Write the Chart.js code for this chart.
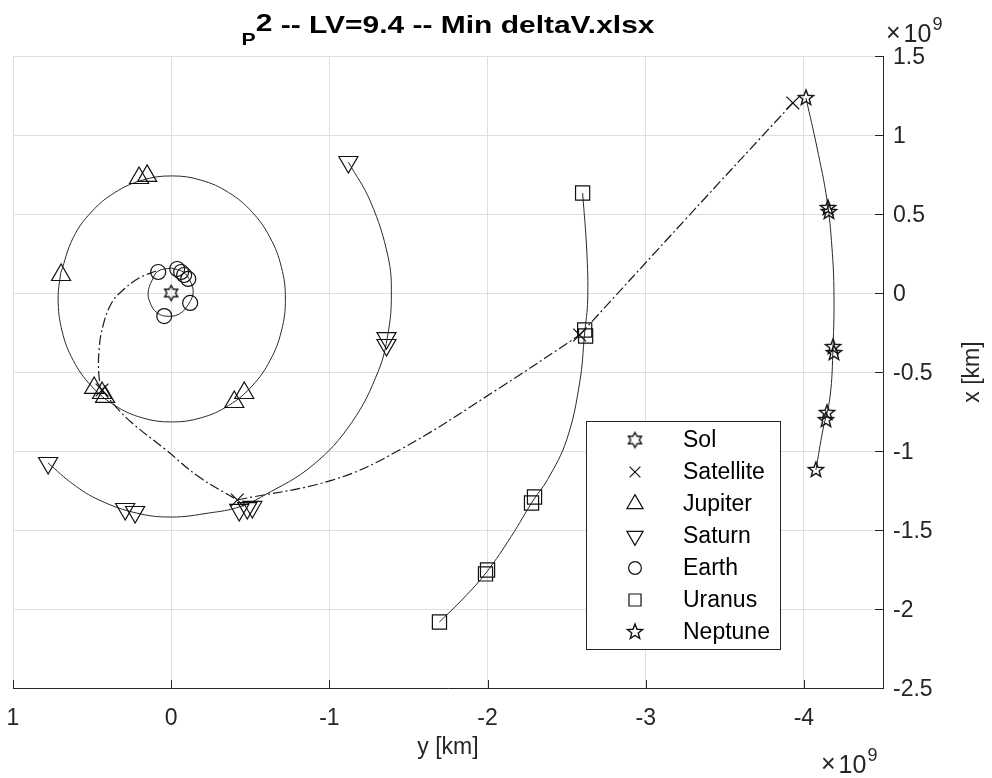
<!DOCTYPE html>
<html>
<head>
<title>Min deltaV trajectory</title>
<script src="https://cdn.jsdelivr.net/npm/chart.js@4"></script>
<style>
  html, body { margin:0; padding:0; background:#fff; }
  #orbitChart { display:block; }
</style>
</head>
<body>
<canvas id="orbitChart" width="992" height="778"></canvas>
<script>
// all positions in units of 1e9 km, pairs are [y km (horizontal), x km (vertical)]
const xTicks = [1, 0, -1, -2, -3, -4];
const xTickLabels = ['1', '0', '-1', '-2', '-3', '-4'];
const yTicks = [1.5, 1, 0.5, 0, -0.5, -1, -1.5, -2, -2.5];
const yTickLabels = ['1.5', '1', '0.5', '0', '-0.5', '-1', '-1.5', '-2', '-2.5'];

const solMarks = [[0, 0]];

const earthOrbit = [[0,0.158],[0.082,0.139],[0.120,0.082],[0.146,0],[0.127,-0.076],[0.095,-0.120],
  [0.038,-0.146],[-0.051,-0.133],[-0.114,-0.063],[-0.139,0.006],[-0.120,0.076],[-0.076,0.133],[0,0.158]];
const earthMarks = [[0.082,0.133],[-0.038,0.152],[-0.063,0.133],[-0.082,0.114],[-0.108,0.089],[-0.120,-0.063],[0.044,-0.146]];

const jupiterOrbit = [[0.699,0.124],[0.619,0.351],[0.504,0.513],[0.356,0.636],[0.183,0.714],[-0.003,0.741],
  [-0.189,0.714],[-0.363,0.636],[-0.511,0.513],[-0.625,0.351],[-0.697,0.163],[-0.722,-0.038],[-0.697,-0.240],
  [-0.625,-0.427],[-0.511,-0.589],[-0.363,-0.712],[-0.189,-0.790],[-0.003,-0.816],[0.183,-0.790],[0.356,-0.712],
  [0.504,-0.589],[0.619,-0.427],[0.690,-0.240],[0.715,-0.038],[0.699,0.124]];
const jupiterMarks = [[0.696,0.114],[0.203,0.728],[0.152,0.741],[0.487,-0.601],[0.437,-0.633],[0.418,-0.658],[-0.399,-0.690],[-0.462,-0.633]];

const saturnOrbit = [[0.778,-1.076],[0.620,-1.210],[0.456,-1.310],[0.222,-1.392],[0,-1.418],[-0.242,-1.392],
  [-0.430,-1.354],[-0.589,-1.280],[-0.895,-1.090],[-1.141,-0.820],[-1.309,-0.495],[-1.371,-0.255],[-1.392,-0.013],
  [-1.371,0.230],[-1.261,0.576],[-1.120,0.829]];
const saturnMarks = [[0.778,-1.076],[0.291,-1.367],[0.228,-1.386],[-0.430,-1.373],[-0.481,-1.361],[-0.513,-1.354],[-1.361,-0.285],[-1.361,-0.329],[-1.120,0.829]];

const uranusOrbit = [[-2.601,0.633],[-2.627,0.272],[-2.633,-0.044],[-2.614,-0.253],[-2.582,-0.570],[-2.500,-0.930],
  [-2.380,-1.180],[-2.290,-1.310],[-2.150,-1.540],[-1.995,-1.765],[-1.850,-1.930],[-1.696,-2.082]];
const uranusMarks = [[-2.601,0.633],[-2.614,-0.234],[-2.620,-0.272],[-2.297,-1.291],[-2.278,-1.329],[-2.000,-1.753],[-1.987,-1.778],[-1.696,-2.082]];

const neptuneOrbit = [[-4.013,1.234],[-4.082,0.924],[-4.146,0.589],[-4.177,0.291],[-4.190,0],[-4.184,-0.342],
  [-4.165,-0.658],[-4.120,-0.867],[-4.076,-1.120]];
const neptuneMarks = [[-4.013,1.234],[-4.152,0.538],[-4.158,0.513],[-4.184,-0.342],[-4.190,-0.380],[-4.146,-0.759],[-4.139,-0.804],[-4.076,-1.120]];

// satellite legs between flybys
const legEarthJupiter = [[0.095,0.139],[0.203,0.095],[0.297,0.025],[0.373,-0.057],[0.430,-0.203],[0.456,-0.361],[0.456,-0.532],[0.437,-0.614]];
const legJupiterSaturn = [[0.437,-0.614],[0.348,-0.722],[0.247,-0.823],[0.032,-0.994],[-0.177,-1.165],[-0.418,-1.310]];
const legSaturnUranus = [[-0.418,-1.310],[-1.019,-1.184],[-1.443,-0.994],[-2.076,-0.601],[-2.582,-0.266]];
const legUranusNeptune = [[-2.582,-0.266],[-3.253,0.468],[-3.930,1.203]];
const satelliteMarks = [[0.437,-0.614],[-0.418,-1.310],[-2.582,-0.266],[-3.930,1.203]];

const legendNames = ['Sol', 'Satellite', 'Jupiter', 'Saturn', 'Earth', 'Uranus', 'Neptune'];
const titleSub = 'P', titleSup = '2', titleRest = ' -- LV=9.4 -- Min deltaV.xlsx';

const fontFam = "'Liberation Sans', Arial, Helvetica, sans-serif";
const textColor = '#262626';
const gridColor = '#dfdfdf';
const lineColor = '#2a2a2a';
const markColor = '#111';

function starCanvas(n, outer, inner) {
  const size = Math.ceil(outer * 2 + 4);
  const c = document.createElement('canvas');
  c.width = size; c.height = size;
  const g = c.getContext('2d');
  g.strokeStyle = markColor; g.lineWidth = 1.4;
  g.beginPath();
  for (let i = 0; i < n * 2; i++) {
    const r = i % 2 ? inner : outer;
    const a = -Math.PI / 2 + i * Math.PI / n;
    const px = size / 2 + r * Math.cos(a), py = size / 2 + r * Math.sin(a);
    i ? g.lineTo(px, py) : g.moveTo(px, py);
  }
  g.closePath(); g.stroke();
  return c;
}
const hexagram = starCanvas(6, 7.5, 4.3);
const pentagram = starCanvas(5, 8, 3.4);

const pts = arr => arr.map(([h, v]) => ({ x: h, y: v }));

const markerStyles = [
  { data: solMarks, pointStyle: hexagram, radius: 8, rotation: 0 },
  { data: satelliteMarks, pointStyle: 'crossRot', radius: 9, rotation: 0 },
  { data: jupiterMarks, pointStyle: 'triangle', radius: 11, rotation: 0 },
  { data: saturnMarks, pointStyle: 'triangle', radius: 11, rotation: 180 },
  { data: earthMarks, pointStyle: 'circle', radius: 7.5, rotation: 0 },
  { data: uranusMarks, pointStyle: 'rect', radius: 10, rotation: 0 },
  { data: neptuneMarks, pointStyle: pentagram, radius: 9, rotation: 0 }
];

const datasets = markerStyles.map((m, i) => ({
  label: legendNames[i],
  data: pts(m.data),
  showLine: false,
  pointStyle: m.pointStyle,
  pointRadius: m.radius,
  pointRotation: m.rotation,
  pointBorderColor: markColor,
  pointBackgroundColor: 'rgba(0,0,0,0)',
  pointBorderWidth: 1.2
}));

[earthOrbit, jupiterOrbit, saturnOrbit, uranusOrbit, neptuneOrbit].forEach(o => {
  datasets.push({ data: pts(o), showLine: true, tension: 0.4, pointRadius: 0,
    borderColor: lineColor, borderWidth: 1, fill: false });
});
[legEarthJupiter, legJupiterSaturn, legSaturnUranus, legUranusNeptune].forEach(o => {
  datasets.push({ data: pts(o), showLine: true, tension: 0.4, pointRadius: 0,
    borderColor: '#1a1a1a', borderWidth: 1.2, borderDash: [10, 3, 2, 3], fill: false });
});

function drawPower(ctx, x, y, size, exp) {
  ctx.font = size + 'px ' + fontFam;
  ctx.textAlign = 'left'; ctx.textBaseline = 'alphabetic';
  ctx.fillText('\u00d7', x, y - 1);
  let cx = x + ctx.measureText('\u00d7').width + 3;
  ctx.fillText('10', cx, y);
  cx += ctx.measureText('10').width + 1;
  ctx.font = Math.round(size * 0.72) + 'px ' + fontFam;
  ctx.fillText(exp, cx, y - 12);
}

const overlay = {
  id: 'overlay',
  afterDraw(chart) {
    const { ctx, chartArea: a, scales: { x, y } } = chart;
    ctx.save();
    // tick marks point inward, as in the source figure
    ctx.strokeStyle = textColor; ctx.lineWidth = 1;
    ctx.beginPath();
    xTicks.forEach(v => {
      const px = Math.round(x.getPixelForValue(v)) + 0.5;
      ctx.moveTo(px, a.bottom); ctx.lineTo(px, a.bottom - 8);
    });
    yTicks.forEach(v => {
      const py = Math.round(y.getPixelForValue(v)) + 0.5;
      ctx.moveTo(a.right, py); ctx.lineTo(a.right - 8, py);
    });
    ctx.stroke();

    ctx.fillStyle = textColor;
    // exponent labels
    drawPower(ctx, 886, 42, 25, '9');
    drawPower(ctx, 821, 773, 25, '9');

    // axis titles
    ctx.font = '23px ' + fontFam;
    ctx.textAlign = 'center'; ctx.textBaseline = 'alphabetic';
    ctx.fillText('y [km]', (a.left + a.right) / 2, 754);
    ctx.save();
    ctx.translate(973, (a.top + a.bottom) / 2);
    ctx.rotate(-Math.PI / 2);
    ctx.textBaseline = 'middle';
    ctx.fillText('x [km]', 0, 0);
    ctx.restore();

    // title with sub/superscript
    ctx.fillStyle = '#000';
    ctx.textAlign = 'left';
    const big = 'bold 24px ' + fontFam, small = 'bold 17px ' + fontFam;
    ctx.font = small; const wSub = ctx.measureText(titleSub).width;
    ctx.font = big; const wSup = ctx.measureText(titleSup).width;
    const wRest = ctx.measureText(titleRest).width;
    const natural = wSub + wSup + wRest;
    const target = 413;
    const sx = target / natural;
    ctx.save();
    ctx.translate((a.left + a.right) / 2 - target / 2, 0);
    ctx.scale(sx, 1);
    ctx.font = small; ctx.fillText(titleSub, 0, 45);
    ctx.font = big; ctx.fillText(titleSup, wSub, 31);
    ctx.fillText(titleRest, wSub + wSup, 33);
    ctx.restore();

    // legend box
    const lx = 586, ly = 421, lw = 194, lh = 228;
    ctx.fillStyle = '#fff';
    ctx.fillRect(lx, ly, lw, lh);
    ctx.strokeStyle = textColor; ctx.lineWidth = 1;
    ctx.strokeRect(lx + 0.5, ly + 0.5, lw, lh);
    ctx.font = '23px ' + fontFam;
    ctx.textAlign = 'left'; ctx.textBaseline = 'middle';
    markerStyles.forEach((m, i) => {
      const ry = ly + 19 + i * 32;
      ctx.save();
      ctx.strokeStyle = markColor; ctx.fillStyle = 'rgba(0,0,0,0)'; ctx.lineWidth = 1.2;
      Chart.helpers.drawPoint(ctx, { pointStyle: m.pointStyle, radius: m.radius * 0.85, rotation: m.rotation, borderWidth: 1.2 }, 635, ry);
      ctx.restore();
      ctx.fillStyle = '#000';
      ctx.fillText(legendNames[i], 683, ry + 1);
    });
    ctx.restore();
  }
};

new Chart(document.getElementById('orbitChart'), {
  type: 'scatter',
  data: { datasets },
  options: {
    responsive: false,
    animation: false,
    events: [],
    layout: { padding: { left: 13, top: 56, right: 0, bottom: 0 } },
    plugins: { legend: { display: false }, title: { display: false }, tooltip: { enabled: false } },
    scales: {
      x: {
        type: 'linear', position: 'bottom', reverse: true, min: -4.5, max: 1,
        afterBuildTicks: s => { s.ticks = xTicks.map(v => ({ value: v })); },
        afterFit: s => { s.height = 90; s.paddingLeft = 0; s.paddingRight = 0; },
        grid: { color: gridColor, drawTicks: false },
        border: { display: true, color: textColor, width: 1 },
        ticks: { color: textColor, font: { family: fontFam, size: 23 }, padding: 17, maxRotation: 0, autoSkip: false,
          callback: v => xTickLabels[xTicks.indexOf(v)] }
      },
      y: {
        type: 'linear', position: 'right', min: -2.5, max: 1.5,
        afterBuildTicks: s => { s.ticks = yTicks.map(v => ({ value: v })); },
        afterFit: s => { s.width = 109; s.paddingTop = 0; s.paddingBottom = 0; },
        grid: { color: gridColor, drawTicks: false },
        border: { display: true, color: textColor, width: 1 },
        ticks: { color: textColor, font: { family: fontFam, size: 23 }, padding: 10, labelOffset: 2, autoSkip: false,
          callback: v => yTickLabels[yTicks.indexOf(v)] }
      }
    }
  },
  plugins: [overlay]
});
</script>
</body>
</html>
